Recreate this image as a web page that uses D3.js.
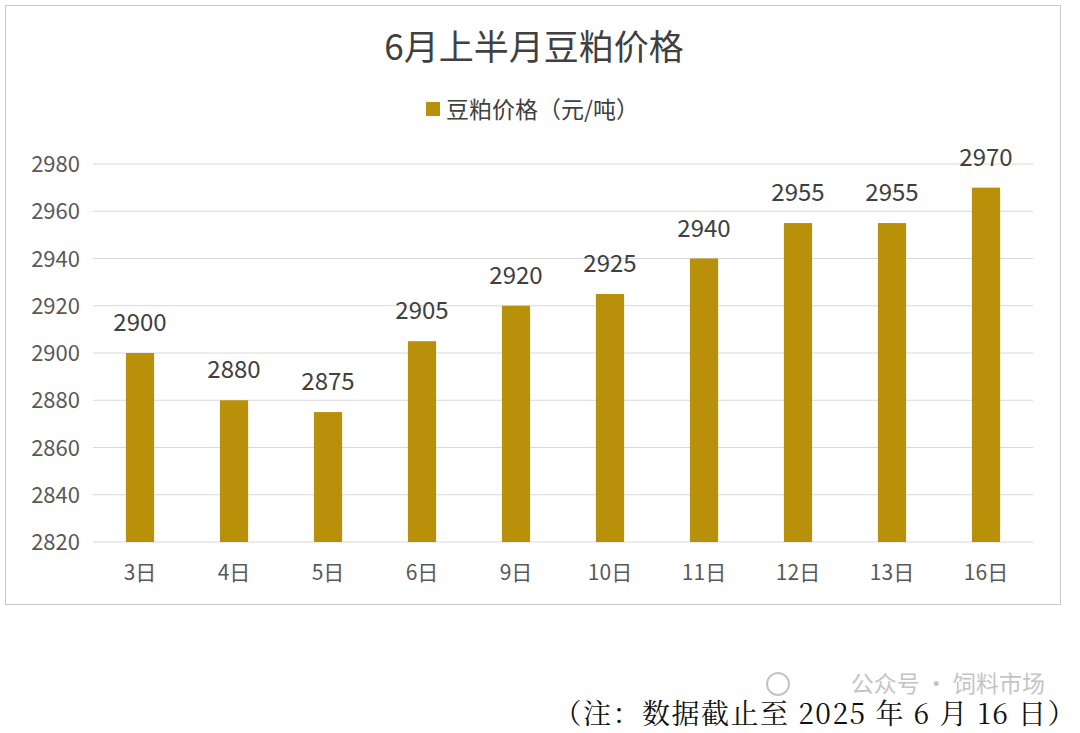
<!DOCTYPE html>
<html><head><meta charset="utf-8">
<script src="https://cdn.jsdelivr.net/npm/d3@7"></script>
<style>body{margin:0;background:#fff}svg{display:block}</style>
</head><body>
<svg id="c" width="1080" height="733"></svg>
<script>
const categories=["3日","4日","5日","6日","9日","10日","11日","12日","13日","16日"];
const prices=[2900,2880,2875,2905,2920,2925,2940,2955,2955,2970];
const yTicks=[2820,2840,2860,2880,2900,2920,2940,2960,2980];
const title="6月上半月豆粕价格";
const legendLabel="豆粕价格（元/吨）";
const note="（注：数据截止至 2025 年 6 月 16 日）";
const watermark="公众号 · 饲料市场";

const svg=d3.select("#c");
const font="'Noto Sans CJK SC','Noto Sans',sans-serif";
const color="#B8900A";
svg.append("rect").attr("x",5.5).attr("y",5.5).attr("width",1055).attr("height",599)
  .attr("fill","#fff").attr("stroke","#c8c8c8");
svg.append("text").attr("x",534).attr("y",60).attr("text-anchor","middle")
  .attr("font-family",font).attr("font-size",35).attr("fill","#404040").text(title);
svg.append("rect").attr("x",426).attr("y",102).attr("width",14).attr("height",14).attr("fill",color);
svg.append("text").attr("x",446).attr("y",118).attr("font-family",font).attr("font-size",23)
  .attr("fill","#404040").text(legendLabel);

const x=d3.scaleBand().domain(categories).range([93,1033]).paddingInner(0.7).paddingOuter(0.35);
const y=d3.scaleLinear().domain([2820,2980]).range([542,164]);

const g=svg.append("g");
g.selectAll("line.grid").data(yTicks).join("line").attr("x1",93).attr("x2",1033)
  .attr("y1",d=>y(d)).attr("y2",d=>y(d)).attr("stroke","#d9d9d9").attr("stroke-width",1);
g.selectAll("text.yt").data(yTicks).join("text").attr("x",80).attr("y",d=>y(d)+8)
  .attr("text-anchor","end").attr("font-family",font).attr("font-size",22).attr("fill","#595959").text(d=>d);
g.selectAll("rect.bar").data(prices).join("rect")
  .attr("x",(d,i)=>x(categories[i])).attr("width",x.bandwidth())
  .attr("y",d=>y(d)).attr("height",d=>y(2820)-y(d)).attr("fill",color);
g.selectAll("text.vl").data(prices).join("text")
  .attr("x",(d,i)=>x(categories[i])+x.bandwidth()/2).attr("y",d=>y(d)-22)
  .attr("text-anchor","middle").attr("font-family",font).attr("font-size",24).attr("fill","#404040").text(d=>d);
g.selectAll("text.xl").data(categories).join("text")
  .attr("x",d=>x(d)+x.bandwidth()/2).attr("y",580).attr("text-anchor","middle")
  .attr("font-family",font).attr("font-size",21).attr("fill","#595959").text(d=>d);

svg.append("text").attr("x",1045).attr("y",692).attr("text-anchor","end").attr("font-family",font)
  .attr("font-size",23).attr("fill","#c4c4c4").text(watermark);
svg.append("circle").attr("cx",778).attr("cy",684).attr("r",11).attr("fill","none").attr("stroke","#c4c4c4").attr("stroke-width",2);
svg.append("text").attr("x",1077).attr("y",724).attr("text-anchor","end")
  .attr("font-family","'Noto Serif CJK SC','Liberation Serif','Noto Sans CJK SC',serif")
  .attr("font-size",28).attr("letter-spacing",1.5).attr("fill","#111").text(note);
</script>
</body></html>
